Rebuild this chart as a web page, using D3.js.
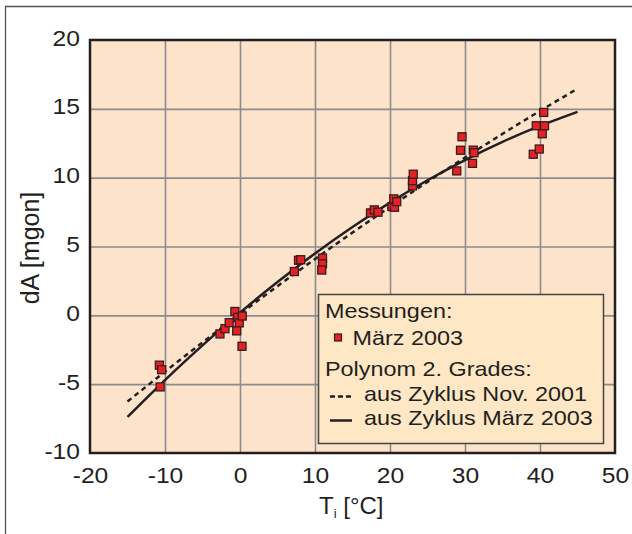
<!DOCTYPE html>
<html>
<head>
<meta charset="utf-8">
<script src="https://cdn.jsdelivr.net/npm/d3@7"></script>
<style>
  body { margin: 0; background: #fff; }
  text { font-family: "Liberation Sans", Arial, sans-serif; fill: #231f20; }
</style>
</head>
<body>
<svg id="chart"></svg>
<script>
// measured points (März 2003)
const tempValues = [-10.75, -10.45, -10.65, -2.67, -2.0, -1.44, -0.68, -0.3, -0.1, -0.44, 0.3, 0.27,
    7.25, 7.8, 8.1, 11.0, 11.0, 10.9, 17.4, 17.9, 18.4, 20.25, 20.6, 20.5, 20.9,
    23.0, 23.0, 23.1, 28.9, 29.4, 29.6, 31.1, 31.2, 31.0, 39.1, 39.9, 39.5, 40.6, 40.3, 40.5];
const dAValues = [-3.62, -3.95, -5.2, -1.35, -0.97, -0.53, 0.28, -0.15, -0.55, -1.13, -0.05, -2.25,
    3.18, 4.0, 4.04, 4.16, 3.74, 3.29, 7.44, 7.66, 7.49, 7.9, 7.85, 8.46, 8.26,
    9.4, 9.78, 10.25, 10.49, 11.99, 12.97, 12.0, 11.81, 11.04, 11.7, 12.08, 13.77, 13.77, 13.19, 14.74];

// fitted curves
const curveT = [-15, -10, -5, 0, 5, 10, 15, 20, 25, 30, 35, 40, 45];
const nov2001 = [-6.26, -4.09, -1.97, 0.1, 2.12, 4.09, 6.01, 7.87, 9.69, 11.46, 13.18, 14.85, 16.46];
const maerz2003 = [-7.38, -4.7, -2.18, 0.2, 2.42, 4.5, 6.42, 8.19, 9.81, 11.28, 12.6, 13.76, 14.78];

const tickX = [-20, -10, 0, 10, 20, 30, 40, 50];
const tickY = [-10, -5, 0, 5, 10, 15, 20];

const margin = {top: 40, right: 17, bottom: 81, left: 90},
    width = 632 - margin.left - margin.right,
    height = 534 - margin.top - margin.bottom;

const svg = d3.select("#chart")
    .attr("width", 632)
    .attr("height", 534);

// outer frame
svg.append("path")
    .attr("d", "M5.5,534V6.5H632")
    .attr("fill", "none")
    .attr("stroke", "#555")
    .attr("stroke-width", 1.3);

const g = svg.append("g")
    .attr("transform", `translate(${margin.left}, ${margin.top})`);

const x = d3.scaleLinear().domain([-20, 50]).range([0, width]);
const y = d3.scaleLinear().domain([-10, 20]).range([height, 0]);

g.append("rect")
    .attr("width", width)
    .attr("height", height)
    .attr("fill", "#fde3c9");

// grid
g.append("g")
    .attr("class", "grid")
    .attr("transform", `translate(0, ${height})`)
    .call(d3.axisBottom(x).tickValues(tickX.slice(1, -1)).tickSize(-height).tickFormat(""));
g.append("g")
    .attr("class", "grid")
    .call(d3.axisLeft(y).tickValues(tickY.slice(1, -1)).tickSize(-width).tickFormat(""));
g.selectAll(".grid .domain").remove();
g.selectAll(".grid line")
    .attr("stroke", "#8c8c8c")
    .attr("stroke-width", 1.6);

// curves
const line = d3.line()
    .x((d, i) => x(curveT[i]))
    .y(d => y(d))
    .curve(d3.curveNatural);

g.append("path")
    .datum(nov2001)
    .attr("d", line)
    .attr("fill", "none")
    .attr("stroke", "#231f20")
    .attr("stroke-width", 2.5)
    .attr("stroke-dasharray", "5,4");

g.append("path")
    .datum(maerz2003)
    .attr("d", line)
    .attr("fill", "none")
    .attr("stroke", "#231f20")
    .attr("stroke-width", 2.5);

// points
const sz = 8;
g.selectAll("rect.pt")
    .data(tempValues)
    .enter().append("rect")
    .attr("class", "pt")
    .attr("x", d => x(d) - sz / 2)
    .attr("y", (d, i) => y(dAValues[i]) - sz / 2)
    .attr("width", sz)
    .attr("height", sz)
    .attr("fill", "#e42127")
    .attr("stroke", "#3b1c1c")
    .attr("stroke-width", 1.3);

// legend
const lg = svg.append("g");
lg.append("rect")
    .attr("x", 318.5).attr("y", 294.5)
    .attr("width", 285).attr("height", 149)
    .attr("fill", "#fee7c4")
    .attr("stroke", "#444")
    .attr("stroke-width", 1.5);

const legendRows = [
    {tx: 325, ty: 318, label: "Messungen:"},
    {tx: 352.5, ty: 345, label: "März 2003"},
    {tx: 325, ty: 376, label: "Polynom 2. Grades:"},
    {tx: 364, ty: 400.5, label: "aus Zyklus Nov. 2001"},
    {tx: 364, ty: 425, label: "aus Zyklus März 2003"}
];
lg.selectAll("text")
    .data(legendRows)
    .enter().append("text")
    .attr("transform", d => `translate(${d.tx}, ${d.ty}) scale(1.17, 1)`)
    .style("font-size", "20px")
    .text(d => d.label);

lg.append("rect")
    .attr("x", 334.5).attr("y", 334)
    .attr("width", 7).attr("height", 7)
    .attr("fill", "#e42127")
    .attr("stroke", "#3b1c1c")
    .attr("stroke-width", 1.2);
lg.append("line")
    .attr("x1", 330).attr("x2", 351).attr("y1", 396.5).attr("y2", 396.5)
    .attr("stroke", "#231f20").attr("stroke-width", 2.5)
    .attr("stroke-dasharray", "5,3");
lg.append("line")
    .attr("x1", 330).attr("x2", 352).attr("y1", 420.5).attr("y2", 420.5)
    .attr("stroke", "#231f20").attr("stroke-width", 2.5);

// plot border
g.append("rect")
    .attr("width", width)
    .attr("height", height)
    .attr("fill", "none")
    .attr("stroke", "#231f20")
    .attr("stroke-width", 2.5);

// axes labels
const yAxis = g.append("g")
    .call(d3.axisLeft(y).tickValues(tickY).tickSize(0).tickFormat(d => String(d)));
const xAxis = g.append("g")
    .attr("transform", `translate(0, ${height})`)
    .call(d3.axisBottom(x).tickValues(tickX).tickSize(0).tickFormat(d => String(d)));
yAxis.select(".domain").remove();
xAxis.select(".domain").remove();
yAxis.selectAll("text")
    .attr("x", 0).attr("dy", 0)
    .attr("transform", "translate(-10, 5) scale(1.12, 1)")
    .attr("fill", "#231f20")
    .style("font-size", "22px")
    .style("font-family", "'Liberation Sans', Arial, sans-serif");
xAxis.selectAll("text")
    .attr("y", 0).attr("dy", 0)
    .attr("transform", "translate(0, 30) scale(1.12, 1)")
    .attr("fill", "#231f20")
    .style("font-size", "22px")
    .style("font-family", "'Liberation Sans', Arial, sans-serif");

// axis titles
const xt = svg.append("text")
    .attr("x", 319).attr("y", 514)
    .style("font-size", "24px");
xt.append("tspan").text("T");
xt.append("tspan").attr("dy", 4).style("font-size", "13px").text("i");
xt.append("tspan").attr("dy", -4).text(" [°C]");

svg.append("text")
    .attr("transform", "translate(39, 248) rotate(-90)")
    .attr("text-anchor", "middle")
    .style("font-size", "25px")
    .text("dA [mgon]");
</script>
</body>
</html>
